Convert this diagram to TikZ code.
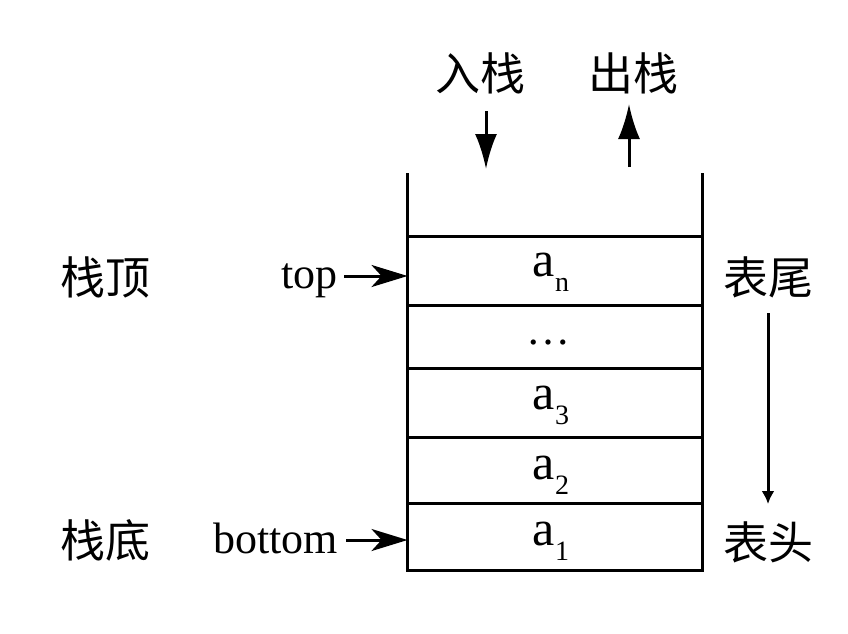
\documentclass[tikz,border=0pt]{standalone}
\usepackage{fontspec}
\setmainfont{Liberation Serif}
\newfontfamily\cjk{Noto Sans CJK SC}
\usetikzlibrary{arrows.meta}
\tikzset{
  cell/.style={draw, line width=3pt, minimum width=295pt, inner sep=0pt, outer sep=0pt, anchor=north},
  lbl/.style={font=\fontsize{44}{50}\selectfont, inner sep=0pt},
  zh/.style={font=\cjk\fontsize{45}{50}\selectfont, inner sep=0pt},
  wall/.style={line width=3pt},
  bigarr/.style={line width=3pt, -{Latex[length=35pt,width=22pt]}},
  sidearr/.style={line width=3pt, -{Stealth[length=36pt,width=22pt,inset=10pt]}},
  smallarr/.style={line width=3pt, -{Latex[length=13pt,width=13pt]}}
}
\newcommand{\elt}[1]{\fontsize{50}{52}\selectfont a\raisebox{-15pt}{\fontsize{28}{30}\selectfont #1}}
\begin{document}
\begin{tikzpicture}[x=1pt,y=-1pt]
\useasboundingbox (0,0) rectangle (848,633);
% cells
\node[cell, minimum height=69pt] (cn) at (555,236) {};
\node[cell, minimum height=63pt] (cd) at (555,305) {};
\node[cell, minimum height=69pt] (c3) at (555,368) {};
\node[cell, minimum height=66pt] (c2) at (555,437) {};
\node[cell, minimum height=67pt] (c1) at (555,503) {};
\node[lbl] at ([xshift=-4pt,yshift=-2pt]cn.center) {\elt{n}};
\node[lbl] at ([xshift=-7pt,yshift=-6pt]cd.center) {\ldots};
\node[lbl] at ([xshift=-4pt,yshift=-3pt]c3.center) {\elt{3}};
\node[lbl] at ([xshift=-4pt,yshift=-5pt]c2.center) {\elt{2}};
\node[lbl] at ([xshift=-4pt,yshift=-5pt]c1.center) {\elt{1}};
% walls
\coordinate (wl) at (407.5,173);
\coordinate (wr) at (702.5,173);
\draw[wall] (cn.north west) -- (wl);
\draw[wall] (cn.north east) -- (wr);
% push / pop
\node[zh] (push) at (480,73) {入栈};
\node[zh] (pop) at (633,73) {出栈};
\coordinate (pushs) at (486,111);
\coordinate (pushe) at (486,169);
\coordinate (pops) at (629,167);
\coordinate (pope) at (629,104);
\draw[bigarr] (pushs) -- (pushe);
\draw[bigarr] (pops) -- (pope);
% left
\node[zh] (ztop) at (105,277) {栈顶};
\node[zh] (zbot) at (105,540) {栈底};
\node[lbl, anchor=base east] (top) at (338,288) {top};
\node[lbl, anchor=base east] (bottom) at (338,553) {bottom};
\draw[sidearr] (top.east |- 0,276) ++(6,0) -- (cn.west |- 0,276);
\draw[sidearr] (bottom.east |- 0,540) ++(8,0) -- (c1.west |- 0,540);
% right
\node[zh] (tail) at (768,277) {表尾};
\node[zh] (head) at (768,542) {表头};
\coordinate (ra) at (768,313);
\coordinate (rb) at (768,504);
\draw[smallarr] (ra) -- (rb);
\end{tikzpicture}
\end{document}
